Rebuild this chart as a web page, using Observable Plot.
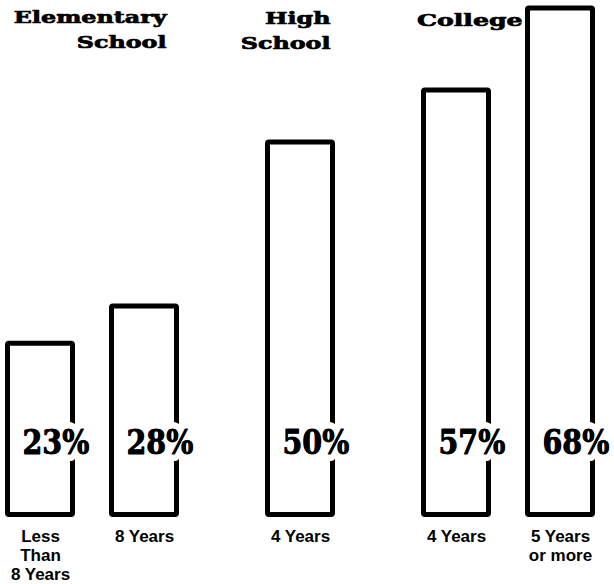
<!DOCTYPE html>
<html>
<head>
<meta charset="utf-8">
<script src="https://cdn.jsdelivr.net/npm/d3@7"></script>
<script src="https://cdn.jsdelivr.net/npm/@observablehq/plot@0.6"></script>
<style>
  html, body { margin: 0; padding: 0; background: #fff; }
  #chart svg { display: block; background: #fff; }
</style>
</head>
<body>
<div id="chart"></div>
<script>
// ---- data ----
const categories = ["Less\nThan\n8 Years", "8 Years", "4 Years", "4 Years", "5 Years\nor more"];
const groups = ["Elementary\nSchool", "Elementary\nSchool", "High\nSchool", "College", "College"];
const values = [23, 28, 50, 57, 68];

// ---- derived table ----
const groupNames = [...new Set(groups)];
const rows = categories.map((c, i) => {
  const gi = groupNames.indexOf(groups[i]);
  return { category: c, group: groups[i], value: values[i], slot: 2 * i + gi };
});
const lastSlot = g => d3.max(rows.filter(r => r.group === g), r => r.slot);
const headers = groupNames.map(g => ({ name: g, slot: lastSlot(g) }));

const hw = 0.625; // half bar width, in slot units
const serif = "DejaVu Serif";
const sans = "Liberation Sans";
const pctOpts = {
  x: "slot", text: d => `${d.value}%`, frameAnchor: "bottom", dy: -72,
  textAnchor: "start", dx: -18, lineAnchor: "middle",
  fontFamily: serif, fontWeight: "bold", fontSize: 34, fill: "black"
};
const headOpts = {
  x: "slot", text: "name", frameAnchor: "top", lineAnchor: "top",
  textAnchor: "end", lineHeight: 1.47, fontFamily: serif, fontWeight: "bold", fontSize: 17,
  fill: "black", stroke: "black", strokeWidth: 0.7
};

const chart = Plot.plot({
  width: 614,
  height: 584,
  marginTop: 8,
  marginBottom: 69.5,
  marginLeft: 40,
  marginRight: 54,
  x: { domain: [0, 10], axis: null },
  y: { domain: [0, 68], axis: null },
  marks: [
    Plot.rect(rows, {
      x1: d => d.slot - hw, x2: d => d.slot + hw, y1: 0, y2: "value",
      fill: "white", stroke: "black", strokeWidth: 5, strokeLinejoin: "round", rx: 1.5
    }),
    Plot.text(rows, { ...pctOpts, stroke: "white", strokeWidth: 14 }),
    Plot.text(rows, { ...pctOpts, stroke: "black", strokeWidth: 0.8 }),
    Plot.text(rows, {
      x: "slot", text: "category", frameAnchor: "bottom", lineAnchor: "top", dy: 13,
      lineHeight: 1.12, fontFamily: sans, fontWeight: "bold", fontSize: 17, fill: "black"
    }),
    Plot.text(headers.slice(0, 1), { ...headOpts, dy: -3, dx: 22 }),
    Plot.text(headers.slice(1, 2), { ...headOpts, dy: -2, dx: 30 }),
    Plot.text(headers.slice(2, 3), { ...headOpts, dy: 0, dx: -38 })
  ]
});

// horizontal stretch/condense of the type, like the original typefaces
function stretch(g, s) {
  d3.select(g).selectAll("text").each(function () {
    const t = this.getAttribute("transform");
    if (t) {
      this.setAttribute("transform", t + ` scale(${s},1)`);
    } else {
      const x = +this.getAttribute("x") || 0, y = +this.getAttribute("y") || 0;
      this.removeAttribute("x"); this.removeAttribute("y");
      d3.select(this).selectAll("tspan").each(function () {
        if (this.getAttribute("x") !== null) this.setAttribute("x", 0);
      });
      this.setAttribute("transform", `translate(${x},${y}) scale(${s},1)`);
    }
  });
}
const textGroups = chart.querySelectorAll('g[aria-label="text"]');
stretch(textGroups[0], 0.84);
stretch(textGroups[1], 0.84);
stretch(textGroups[3], 1.4);
stretch(textGroups[4], 1.4);
stretch(textGroups[5], 1.48);

document.getElementById("chart").appendChild(chart);
</script>
</body>
</html>
